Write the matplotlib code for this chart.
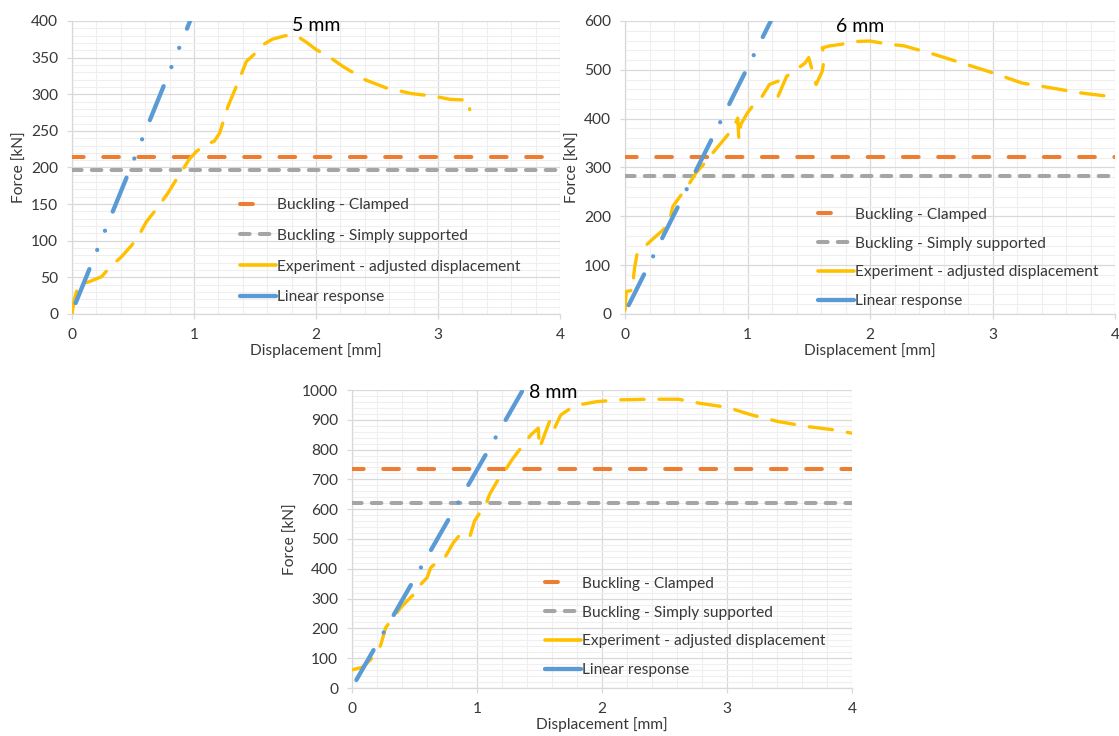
import matplotlib
matplotlib.use("Agg")
import matplotlib.pyplot as plt
from matplotlib.ticker import MultipleLocator
from matplotlib.lines import Line2D

plt.rcParams['font.family'] = ['Lato', 'DejaVu Sans']

# ---------------- data ----------------
labels = ["Buckling - Clamped", "Buckling - Simply supported",
          "Experiment - adjusted displacement", "Linear response"]
titles = ["5 mm", "6 mm", "8 mm"]

# 5 mm
clamped_5 = 215
simply_5 = 196
lin_x_5 = [0.03, 0.98]
lin_y_5 = [15, 405]
exp_x_5 = [0.0, 0.018, 0.053, 0.14, 0.243, 0.317, 0.405, 0.49, 0.55, 0.61, 0.70, 0.786,
           0.845, 0.90, 0.96, 1.02, 1.09, 1.167, 1.21, 1.28, 1.37, 1.43, 1.49, 1.55, 1.64,
           1.75, 1.84, 1.93, 2.0, 2.1, 2.22, 2.40, 2.57, 2.78, 2.98, 3.10, 3.25, 3.26]
exp_y_5 = [0, 19, 40, 44, 51, 65, 78, 94, 108, 126, 145, 165,
           181, 195, 211, 222, 231, 236, 247, 284, 320, 345, 354, 366, 375,
           380, 380, 370, 361, 352, 338, 320, 309, 301, 297, 293, 292, 279]

# 6 mm
clamped_6 = 322
simply_6 = 282
lin_x_6 = [0.03, 1.22]
lin_y_6 = [18, 615]
exp_x_6 = [0.0, 0.01, 0.07, 0.07, 0.08, 0.10, 0.13, 0.22, 0.31, 0.36, 0.39, 0.45, 0.51,
           0.58, 0.65, 0.74, 0.83, 0.89, 0.92, 0.93, 0.945, 1.0, 1.06, 1.12, 1.18, 1.25,
           1.25, 1.32, 1.38, 1.47, 1.50, 1.56, 1.61, 1.63, 1.61, 1.67, 1.76, 1.88, 2.0,
           2.14, 2.28, 2.52, 2.75, 3.0, 3.24, 3.48, 3.71, 3.94, 4.0]
exp_y_6 = [8, 46, 49, 77, 97, 125, 131, 152, 172, 186, 220, 241, 261,
           289, 309, 337, 364, 384, 401, 357, 388, 412, 432, 446, 470, 477,
           446, 487, 497, 514, 525, 470, 497, 528, 545, 549, 552, 558, 559,
           553, 549, 532, 514, 494, 473, 463, 453, 446, 443]

# 8 mm
clamped_8 = 735
simply_8 = 622
lin_x_8 = [0.035, 1.36]
lin_y_8 = [27, 995]
exp_x_8 = [0.0, 0.08, 0.154, 0.228, 0.27, 0.33, 0.39, 0.48, 0.51, 0.55, 0.60, 0.63, 0.69,
           0.75, 0.81, 0.865, 0.94, 0.98, 1.03, 1.07, 1.10, 1.16, 1.22, 1.28, 1.37, 1.43,
           1.49, 1.50, 1.55, 1.59, 1.62, 1.67, 1.75, 1.84, 1.96, 2.14, 2.38, 2.61, 2.79,
           3.0, 3.2, 3.41, 3.65, 3.86, 4.0]
exp_y_8 = [61, 69, 97, 142, 203, 236, 270, 309, 314, 348, 370, 404, 426,
           443, 487, 515, 504, 560, 593, 615, 649, 693, 727, 766, 816, 849,
           872, 805, 861, 905, 872, 916, 939, 952, 961, 967, 969, 969, 955,
           942, 916, 894, 877, 866, 855]

# ---------------- styling ----------------
C_ORANGE = "#ED7D31"
C_GRAY = "#A5A5A5"
C_YELLOW = "#FFC000"
C_BLUE = "#5B9BD5"
TXT = "#383838"
FS = 11.2

fig = plt.figure(figsize=(11.19, 7.36), dpi=100)

panels = [
    dict(rect=[72/1119, 1-314/736, 488/1119, 293/736], ymax=400, major=50, minor=10,
         clamped=clamped_5, simply=simply_5, lx=lin_x_5, ly=lin_y_5, ex=exp_x_5, ey=exp_y_5,
         title=titles[0], tpos=(0.50, 0.985), lin_dash=(8.5, 4.8, 0.01, 4.8, 0.01, 4.8),
         leg=(0.344, 0.396), lsp=1.08),
    dict(rect=[625/1119, 1-314/736, 490/1119, 293/736], ymax=600, major=100, minor=20,
         clamped=clamped_6, simply=simply_6, lx=lin_x_6, ly=lin_y_6, ex=exp_x_6, ey=exp_y_6,
         title=titles[1], tpos=(0.48, 0.98), lin_dash=(8.0, 4.7, 0.01, 4.7),
         leg=(0.394, 0.362), lsp=0.95),
    dict(rect=[352/1119, 1-688/736, 500/1119, 298/736], ymax=1000, major=100, minor=20,
         clamped=clamped_8, simply=simply_8, lx=lin_x_8, ly=lin_y_8, ex=exp_x_8, ey=exp_y_8,
         title=titles[2], tpos=(0.402, 0.99), lin_dash=(8.0, 4.7, 0.01, 4.7),
         leg=(0.386, 0.373), lsp=0.95),
]

for p in panels:
    ax = fig.add_axes(p['rect'])
    ax.set_xlim(0, 4)
    ax.set_ylim(0, p['ymax'])
    ax.xaxis.set_major_locator(MultipleLocator(1))
    ax.xaxis.set_minor_locator(MultipleLocator(0.2))
    ax.yaxis.set_major_locator(MultipleLocator(p['major']))
    ax.yaxis.set_minor_locator(MultipleLocator(p['minor']))
    ax.grid(True, which='major', color='#D9D9D9', linewidth=0.9, zorder=0)
    ax.grid(True, which='minor', color='#EFEFEF', linewidth=0.8, zorder=0)
    ax.set_axisbelow(True)
    for s in ['top', 'right']:
        ax.spines[s].set_visible(False)
    for s in ['left', 'bottom']:
        ax.spines[s].set_color('#D9D9D9')
        ax.spines[s].set_linewidth(0.9)
    ax.tick_params(which='minor', length=0)
    ax.tick_params(which='major', length=3.6, width=0.9, color='#D9D9D9',
                   labelsize=FS, labelcolor=TXT, pad=6.4)
    ax.set_xlabel("Displacement [mm]", fontsize=FS, color=TXT, labelpad=1)
    ax.set_ylabel("Force [kN]", fontsize=FS, color=TXT, labelpad=3)

    ax.plot([0, 4], [p['clamped']] * 2, color=C_ORANGE, lw=2.9,
            linestyle=(1.0, (3.9, 4.85)), dash_capstyle='round', zorder=3)
    ax.plot([0, 4], [p['simply']] * 2, color=C_GRAY, lw=2.9,
            linestyle=(0, (2.4, 2.5)), dash_capstyle='round', zorder=3)
    ax.plot(p['ex'], p['ey'], color=C_YELLOW, lw=2.4,
            linestyle=(0, (7.0, 4.5)), dash_capstyle='round', solid_joinstyle='round',
            zorder=4)
    ax.plot(p['lx'], p['ly'], color=C_BLUE, lw=3.1,
            linestyle=(0, p['lin_dash']), dash_capstyle='round', zorder=5)

    ax.text(p['tpos'][0], p['tpos'][1], p['title'], transform=ax.transAxes,
            ha='center', va='center', fontsize=14, color='black')

    handles = [
        Line2D([], [], color=C_ORANGE, lw=2.9, linestyle=(0.4, (3.6, 20)), dash_capstyle='round'),
        Line2D([], [], color=C_GRAY, lw=2.9, linestyle=(0, (2.4, 2.5)), dash_capstyle='round'),
        Line2D([], [], color=C_YELLOW, lw=2.6, solid_capstyle='round'),
        Line2D([], [], color=C_BLUE, lw=3.1, solid_capstyle='round'),
    ]
    leg = ax.legend(handles, labels, loc='upper left', bbox_to_anchor=p['leg'], frameon=False,
                    fontsize=FS, handlelength=2.3, handletextpad=0.1,
                    labelspacing=p['lsp'], borderpad=0, borderaxespad=0)
    for t in leg.get_texts():
        t.set_color(TXT)

fig.savefig("out.png", dpi=100)
